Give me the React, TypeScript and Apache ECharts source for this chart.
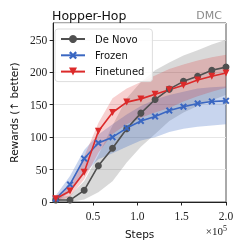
import React, { useEffect, useRef } from "react";
import * as echarts from "echarts";

const steps = [8000, 24000, 40000, 56000, 72000, 88000, 104000, 120000, 136000, 152000, 168000, 184000, 200000];

const deNovo = [3, 3, 18, 56, 83, 113, 137, 158, 174, 186, 194, 203, 208];
const deNovoLow = [0, 0, 4, 15, 32, 61, 85, 105, 125, 138, 148, 157, 165];
const deNovoHigh = [6, 10, 32, 72, 118, 160, 185, 203, 215, 226, 234, 243, 250];

const frozen = [5, 27, 67, 91, 100, 114, 125, 132, 141, 147, 152, 155, 156];
const frozenLow = [0, 15, 43, 66, 75, 85, 95, 100, 108, 113, 116, 118, 120];
const frozenHigh = [10, 40, 80, 104, 120, 135, 148, 158, 165, 170, 175, 177, 178];

const finetuned = [5, 17, 46, 109, 138, 154, 159, 166, 173, 180, 188, 194, 199];
const finetunedLow = [0, 8, 35, 76, 105, 120, 130, 138, 145, 155, 163, 170, 176];
const finetunedHigh = [8, 28, 70, 122, 160, 175, 185, 195, 205, 212, 218, 223, 227];

const yTicks = [0, 50, 100, 150, 200, 250];
const xTickValues = [50000, 100000, 150000, 200000];
const xTickLabels = ["0.5", "1.0", "1.5", "2.0"];

const GRAY = "#505050";
const BLUE = "#3a67c2";
const RED = "#dc2a2a";

const X_MARK = "path://M0,2 L2,0 L5,3 L8,0 L10,2 L7,5 L10,8 L8,10 L5,7 L2,10 L0,8 L3,5 Z";

function band(name: string, low: number[], high: number[], fill: string) {
  return {
    name,
    type: "custom",
    silent: true,
    z: 1,
    data: steps.map((s, i) => [s, low[i], high[i]]),
    encode: { x: 0, y: [1, 2] },
    renderItem: (params: any, api: any) => {
      if (params.dataIndex !== 0) return null;
      const top = steps.map((s, i) => api.coord([s, high[i]]));
      const bot = steps.map((s, i) => api.coord([s, low[i]])).reverse();
      return {
        type: "polygon",
        shape: { points: top.concat(bot) },
        style: { fill },
      };
    },
  };
}

function line(name: string, vals: number[], color: string, symbol: string, size: number, rotate = 0) {
  return {
    name,
    type: "line",
    z: 3,
    data: steps.map((s, i) => [s, vals[i]]),
    lineStyle: { color, width: 1.6 },
    itemStyle: { color },
    symbol,
    symbolSize: size,
    symbolRotate: rotate,
    showSymbol: true,
  };
}

export default function App() {
  const ref = useRef<HTMLDivElement>(null);
  useEffect(() => {
    if (!ref.current) return;
    const chart = echarts.init(ref.current, undefined, { renderer: "svg" });
    chart.setOption({
      animation: false,
      grid: {
        left: 48,
        right: 14,
        top: 23,
        bottom: 42,
        show: true,
        borderColor: "#555",
        borderWidth: 1,
        backgroundColor: "transparent",
      },
      title: [
        {
          text: "Hopper-Hop",
          left: 47,
          top: 4,
          textStyle: { fontFamily: "DejaVu Sans", fontSize: 12.5, fontWeight: "normal", color: "#111" },
        },
        {
          text: "DMC",
          right: 13,
          top: 5,
          textStyle: { fontFamily: "DejaVu Sans", fontSize: 11, fontWeight: "normal", color: "#8a8a8a" },
        },
      ],
      legend: {
        data: ["De Novo", "Frozen", "Finetuned"],
        orient: "vertical",
        left: 55,
        top: 29,
        padding: [5, 8, 5, 5],
        itemWidth: 24,
        itemHeight: 10,
        itemGap: 6.3,
        backgroundColor: "rgba(255,255,255,0.85)",
        borderColor: "#dddddd",
        borderWidth: 1,
        borderRadius: 3,
        textStyle: { fontFamily: "DejaVu Sans", fontSize: 10, color: "#111", padding: [0, 0, 0, 5] },
      },
      xAxis: {
        type: "value",
        min: 5000,
        max: 200000,
        name: "Steps",
        nameLocation: "middle",
        nameGap: 26,
        nameTextStyle: { fontFamily: "DejaVu Sans", fontSize: 10.5, color: "#111" },
        axisLine: { show: true, lineStyle: { color: "#222", width: 1 } },
        axisTick: { show: true, length: 3.5, lineStyle: { color: "#222" }, customValues: xTickValues },
        axisLabel: {
          customValues: xTickValues,
          fontFamily: "Liberation Serif",
          fontSize: 11.5,
          color: "#222",
          margin: 8,
          formatter: (v: number) => {
            const i = xTickValues.indexOf(v);
            return i >= 0 ? xTickLabels[i] : "";
          },
        },
        splitLine: { show: false },
      },
      yAxis: {
        type: "value",
        min: 0,
        max: 276,
        interval: 50,
        name: "Rewards (↑ better)",
        nameLocation: "middle",
        nameGap: 29,
        nameRotate: 90,
        nameTextStyle: { fontFamily: "DejaVu Sans", fontSize: 10.5, color: "#111" },
        axisLine: { show: true, lineStyle: { color: "#222", width: 1 } },
        axisTick: { show: true, length: 3.5, lineStyle: { color: "#222" } },
        axisLabel: {
          showMaxLabel: false,
          fontFamily: "Liberation Serif",
          fontSize: 11.5,
          color: "#222",
          margin: 6,
          formatter: (v: number) => (yTicks.indexOf(v) >= 0 ? String(v) : ""),
        },
        splitLine: { show: true, lineStyle: { color: "#e6e6e6", width: 1 } },
      },
      graphic: [
        {
          type: "text",
          right: 13,
          top: 224,
          style: {
            text: "×10{s|5}",
            fontFamily: "Liberation Serif",
            fontSize: 11,
            fill: "#222",
            rich: { s: { fontSize: 8, verticalAlign: "top", padding: [0, 0, 6, 0], fontFamily: "Liberation Serif" } },
          },
        },
      ],
      series: [
        band("De Novo band", deNovoLow, deNovoHigh, "rgba(80,80,80,0.22)"),
        band("Frozen band", frozenLow, frozenHigh, "rgba(58,103,194,0.28)"),
        band("Finetuned band", finetunedLow, finetunedHigh, "rgba(220,42,42,0.22)"),
        line("De Novo", deNovo, GRAY, "circle", 7),
        line("Frozen", frozen, BLUE, X_MARK, 7),
        line("Finetuned", finetuned, RED, "triangle", 7, 180),
      ],
    });
    return () => chart.dispose();
  }, []);
  return <div ref={ref} style={{ position: "fixed", left: 0, top: 0, width: 240, height: 244 }} />;
}
